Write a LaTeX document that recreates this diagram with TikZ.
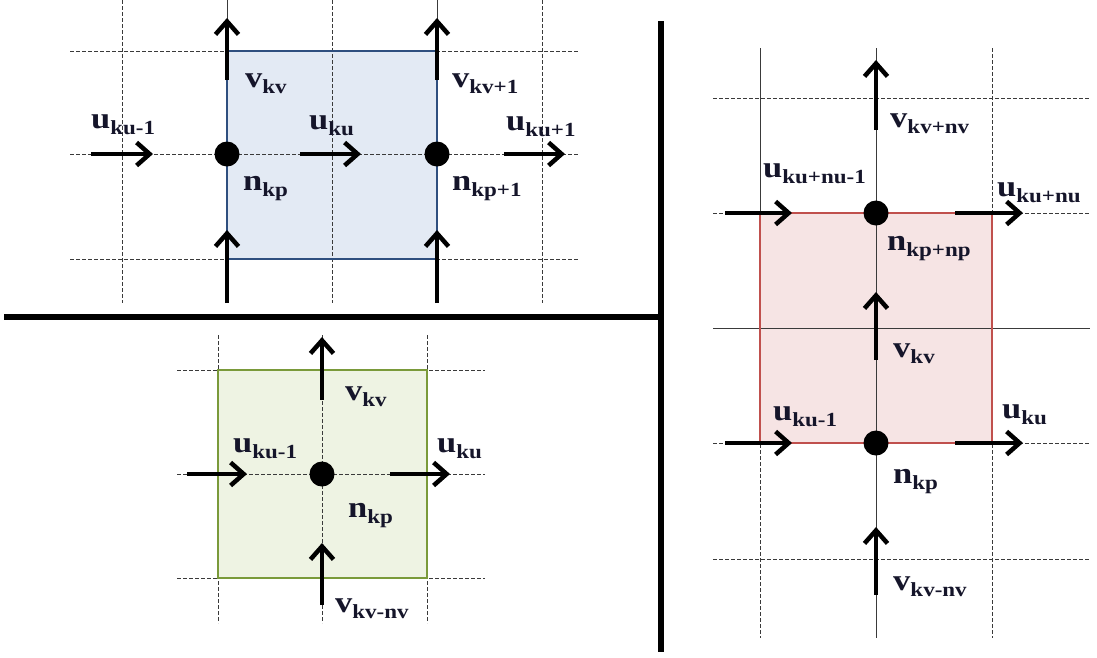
\documentclass[tikz,border=0pt]{standalone}
\usepackage{fontspec}
\setmainfont{Liberation Serif}[FakeStretch=1.15]
\usetikzlibrary{arrows.meta}
\definecolor{gridc}{HTML}{3A3A3A}
\definecolor{bluefill}{HTML}{E3EAF4}
\definecolor{blueedge}{HTML}{2F4F7F}
\definecolor{greenfill}{HTML}{EEF3E3}
\definecolor{greenedge}{HTML}{7A9A3A}
\definecolor{pinkfill}{HTML}{F6E4E4}
\definecolor{pinkedge}{HTML}{C0504D}
\definecolor{labc}{HTML}{15152A}
\newcommand{\mylab}[2]{#1\raisebox{-6pt}{\fontsize{20}{20}\selectfont #2}}
\tikzset{
  gridline/.style={draw=gridc, line width=0.8pt, dash pattern=on 4pt off 2pt},
  gridsolid/.style={draw=gridc, line width=0.8pt},
  flowarrow/.style={line width=4.5pt, -{Straight Barb[length=13pt,width=23pt]}},
  dotnode/.style={circle, fill=black, minimum size=25pt, inner sep=0pt},
  lab/.style={font=\fontsize{30}{30}\selectfont\bfseries, inner sep=0pt, anchor=base west, text=labc},
  divider/.style={line width=6.5pt, draw=black}
}
\begin{document}
\begin{tikzpicture}[x=1pt,y=-1pt]
\useasboundingbox (0,0) rectangle (1097,657);
\fill[white] (0,0) rectangle (1097,657);

% ===== Panel 1 (top left) =====
\fill[bluefill] (227,51) rectangle (437,259);
\foreach \x in {122,332,542} \draw[gridline] (\x,0) -- (\x,303);
\foreach \x in {227,437} \draw[gridsolid] (\x,0) -- (\x,303);
\foreach \y in {51,154,259} \draw[gridline] (70,\y) -- (578,\y);
\draw[blueedge, line width=1.5pt] (227,51) rectangle (437,259);

\node[dotnode] (p1a) at (227,154) {};
\node[dotnode] (p1b) at (437,154) {};
\coordinate (a1s) at (227,80);  \coordinate (a1e) at (227,18);
\coordinate (a2s) at (437,80);  \coordinate (a2e) at (437,18);
\coordinate (a3s) at (227,303); \coordinate (a3e) at (227,230);
\coordinate (a4s) at (437,303); \coordinate (a4e) at (437,230);
\coordinate (a5s) at (91,154);  \coordinate (a5e) at (153,154);
\coordinate (a6s) at (300,154); \coordinate (a6e) at (361,154);
\coordinate (a7s) at (504,154); \coordinate (a7e) at (565,154);
\foreach \i in {1,...,7} \draw[flowarrow] (a\i s) -- (a\i e);

\node[lab] (l1) at (245,87) {\mylab{v}{kv}};
\node[lab] (l2) at (452,87) {\mylab{v}{kv+1}};
\node[lab] (l3) at (91,128) {\mylab{u}{ku-1}};
\node[lab] (l4) at (309,129) {\mylab{u}{ku}};
\node[lab] (l5) at (506,130) {\mylab{u}{ku+1}};
\node[lab] (l6) at (243,190) {\mylab{n}{kp}};
\node[lab] (l7) at (452,190) {\mylab{n}{kp+1}};

% ===== Panel 2 (bottom left) =====
\fill[greenfill] (218,370) rectangle (427,578);
\foreach \x in {218,427} \draw[gridline] (\x,335) -- (\x,623);
\draw[gridline] (322,335) -- (322,623);
\foreach \y in {370,474,578} \draw[gridline] (177,\y) -- (485,\y);
\draw[greenedge, line width=1.5pt] (218,370) rectangle (427,578);

\node[dotnode] (p2) at (322,474) {};
\coordinate (b1s) at (322,400); \coordinate (b1e) at (322,337);
\coordinate (b2s) at (322,605); \coordinate (b2e) at (322,543);
\coordinate (b3s) at (187,474); \coordinate (b3e) at (247,474);
\coordinate (b4s) at (390,474); \coordinate (b4e) at (450,474);
\foreach \i in {1,...,4} \draw[flowarrow] (b\i s) -- (b\i e);

\node[lab] (m1) at (345,400) {\mylab{v}{kv}};
\node[lab] (m2) at (233,452) {\mylab{u}{ku-1}};
\node[lab] (m3) at (437,452) {\mylab{u}{ku}};
\node[lab] (m4) at (348,517) {\mylab{n}{kp}};
\node[lab] (m5) at (335,612) {\mylab{v}{kv-nv}};

% ===== Panel 3 (right) =====
\fill[pinkfill] (760,213) rectangle (992,443);
\draw[gridsolid] (760,48) -- (760,330);
\draw[gridline] (760,330) -- (760,638);
\draw[gridsolid] (876,48) -- (876,638);
\draw[gridline] (992,48) -- (992,638);
\foreach \y in {98,213,443,559} \draw[gridline] (713,\y) -- (1090,\y);
\draw[gridsolid] (713,328) -- (1090,328);
\draw[pinkedge, line width=1.5pt] (760,213) rectangle (992,443);

\node[dotnode] (p3a) at (876,213) {};
\node[dotnode] (p3b) at (876,443) {};
\coordinate (c1s) at (876,130); \coordinate (c1e) at (876,60);
\coordinate (c2s) at (725,213); \coordinate (c2e) at (792,213);
\coordinate (c3s) at (955,213); \coordinate (c3e) at (1023,213);
\coordinate (c4s) at (876,360); \coordinate (c4e) at (876,292);
\coordinate (c5s) at (725,443); \coordinate (c5e) at (792,443);
\coordinate (c6s) at (955,443); \coordinate (c6e) at (1023,443);
\coordinate (c7s) at (876,595); \coordinate (c7e) at (876,527);
\foreach \i in {1,...,7} \draw[flowarrow] (c\i s) -- (c\i e);

\node[lab] (r1) at (890,127) {\mylab{v}{kv+nv}};
\node[lab] (r2) at (763,177) {\mylab{u}{ku+nu-1}};
\node[lab] (r3) at (997,196) {\mylab{u}{ku+nu}};
\node[lab] (r4) at (887,250) {\mylab{n}{kp+np}};
\node[lab] (r5) at (893,357) {\mylab{v}{kv}};
\node[lab] (r6) at (773,420) {\mylab{u}{ku-1}};
\node[lab] (r7) at (1002,418) {\mylab{u}{ku}};
\node[lab] (r8) at (893,483) {\mylab{n}{kp}};
\node[lab] (r9) at (893,590) {\mylab{v}{kv-nv}};

% ===== Dividers =====
\coordinate (dh1) at (4,317);  \coordinate (dh2) at (661,317);
\coordinate (dv1) at (661,21); \coordinate (dv2) at (661,652);
\draw[divider] (dh1) -- (dh2);
\draw[divider] (dv1) -- (dv2);
\end{tikzpicture}
\end{document}
